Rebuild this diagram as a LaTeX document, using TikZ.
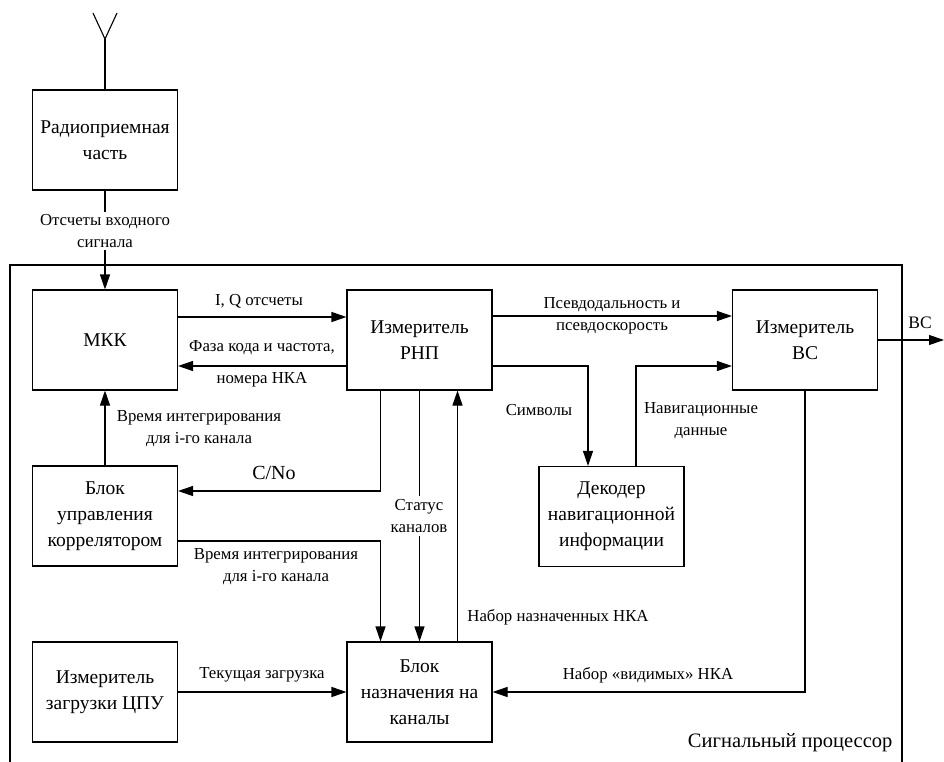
\documentclass[tikz,border=0pt]{standalone}
\usepackage{fontspec}
\setmainfont{Liberation Serif}
\newfontfamily\tnr{Liberation Serif}
\usetikzlibrary{arrows.meta}
\begin{document}
\begin{tikzpicture}[x=1pt,y=-1pt,
  line width=1.1pt,
  every node/.style={font=\tnr},
  box/.style={draw,minimum width=145pt,minimum height=100pt,align=center,inner sep=0pt,
    font=\tnr\fontsize{19.5}{26}\selectfont},
  arr/.style={-{Triangle[length=15pt,width=10pt]}},
  lbl/.style={align=center,inner sep=1pt,font=\tnr\fontsize{16.8}{22}\selectfont},
  gap/.style={lbl,fill=white,inner sep=3pt}]
\useasboundingbox (0,0) rectangle (944,762);
% outer frame (signal processor)
\draw (10,763) -- (10,265) -- (902,265) -- (902,763);
% blocks
\node[box] (radio) at (105,140) {Радиоприемная\\часть};
\node[box] (mkk) at (105,340) {МКК};
\node[box] (rnp) at (419.5,340) {Измеритель\\РНП};
\node[box] (vs) at (805,340) {Измеритель\\ВС};
\node[box] (bu) at (105,516) {Блок\\управления\\коррелятором};
\node[box] (dec) at (611.5,516.5) {Декодер\\навигационной\\информации};
\node[box] (cpu) at (105,692) {Измеритель\\загрузки ЦПУ};
\node[box] (bn) at (419.5,692) {Блок\\назначения на\\каналы};
% antenna
\coordinate (ant) at (105,39);
\coordinate (antl) at (93,13);
\coordinate (antr) at (117,13);
\draw (antl) -- (ant) -- (antr);
\draw (radio.north) -- (ant);
% radio -> MKK
\draw[arr] (radio.south) -- (mkk.north);
\node[gap,inner sep=2pt] (lin) at (105,231) {Отсчеты входного\\сигнала};
% MKK <-> RNP
\draw[arr] ([yshift=23pt]mkk.east) -- ([yshift=23pt]rnp.west);
\node[lbl] (liq) at (259,301) {I, Q отсчеты};
\draw[arr] ([yshift=-26pt]rnp.west) -- ([yshift=-26pt]mkk.east);
\node[lbl] (lph1) at (262,348) {Фаза кода и частота,};
\node[lbl] (lph2) at (262,380) {номера НКА};
% BU -> MKK
\draw[arr] (bu.north) -- (mkk.south);
\node[lbl] (lti1) at (199,429) {Время интегрирования\\для i-го канала};
% C/No
\draw[arr] ([xshift=-39pt]rnp.south) |- ([yshift=25pt]bu.east);
\node[lbl,font=\tnr\fontsize{20}{24}\selectfont] (lcn) at (274,473) {C/No};
% status
\draw[arr] (rnp.south) -- (bn.north);
\node[gap] (lst) at (419,516) {Статус\\каналов};
% BU -> BN
\draw[arr] ([yshift=-25pt]bu.east) -| ([xshift=-39pt]bn.north);
\node[lbl] (lti2) at (276,567) {Время интегрирования\\для i-го канала};
% BN -> RNP
\draw[arr] ([xshift=38pt]bn.north) -- ([xshift=38pt]rnp.south);
\node[lbl] (lnz) at (558,617) {Набор назначенных НКА};
% CPU -> BN
\draw[arr] (cpu.east) -- (bn.west);
\node[lbl] (lcur) at (262,675) {Текущая загрузка};
% VS -> BN
\draw[arr] (vs.south) |- (bn.east);
\node[lbl] (lvis) at (648,675) {Набор «видимых» НКА};
% RNP -> VS
\draw[arr] ([yshift=24pt]rnp.east) -- ([yshift=24pt]vs.west);
\node[lbl] (lps) at (612,316) {Псевдодальность и\\псевдоскорость};
% RNP -> Decoder
\draw[arr] ([yshift=-26pt]rnp.east) -| ([xshift=-23.5pt]dec.north);
\node[lbl] (lsym) at (539,410) {Символы};
% Decoder -> VS
\draw[arr] ([xshift=24.5pt]dec.north) |- ([yshift=-26pt]vs.west);
\node[lbl] (lnav) at (701,421) {Навигационные\\данные};
% VS output
\coordinate (out) at (944,340);
\draw[arr] (vs.east) -- (out);
\node[lbl,font=\tnr\fontsize{17.5}{20}\selectfont] (lvs) at (920,323) {ВС};
% processor label
\node[lbl,font=\tnr\fontsize{20.5}{24}\selectfont,anchor=east] (lproc) at (894,743) {Сигнальный процессор};
\end{tikzpicture}
\end{document}
